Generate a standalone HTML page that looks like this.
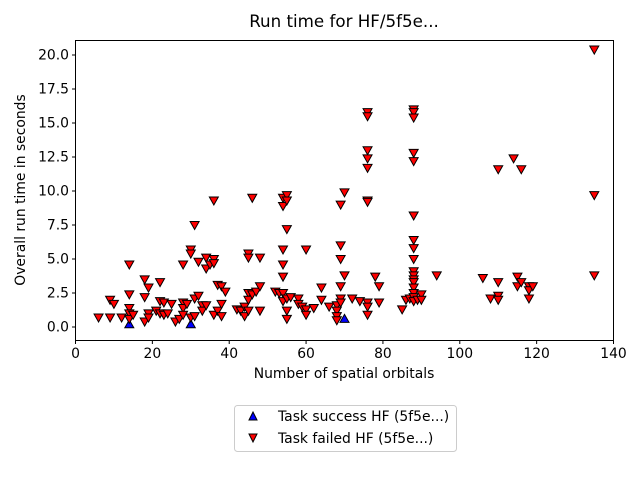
<!DOCTYPE html>
<html><head><meta charset="utf-8"><style>
body{margin:0;background:#fff;font-family:"Liberation Sans","DejaVu Sans",sans-serif}
svg{display:block}
</style></head><body>
<svg id="chart" width="640" height="480" xmlns="http://www.w3.org/2000/svg" font-family="'DejaVu Sans','Liberation Sans',sans-serif">
<text x="344" y="27" text-anchor="middle" font-size="16.7">Run time for HF/5f5e...</text>
<text x="344" y="378" text-anchor="middle" font-size="13.9">Number of spatial orbitals</text>
<text transform="translate(25,190) rotate(-90)" text-anchor="middle" font-size="13.9">Overall run time in seconds</text>
<g id="ticks"></g>
<g id="marks"></g>
<rect x="75.5" y="40.5" width="538" height="300" fill="none" stroke="#000" stroke-width="1"/>
<g>
<rect x="234.5" y="405.5" width="222" height="46" rx="3" fill="#fff" stroke="#ccc"/>
<polygon points="253,412 257,420 249,420" fill="#0000ff" stroke="#000"/>
<text x="278" y="421" font-size="13.9">Task success HF (5f5e...)</text>
<polygon points="249,434 257,434 253,442" fill="#ff0000" stroke="#000"/>
<text x="278" y="443" font-size="13.9">Task failed HF (5f5e...)</text>
</g>
</svg>
<script>
const xTicks=[0,20,40,60,80,100,120,140];
const yTicks=[0,2.5,5,7.5,10,12.5,15,17.5,20];
const successX=[14,30,70];
const successY=[0.2,0.2,0.6];
const failedX=[6,9,9,10,12,14,14,14,14,14,15,18,18,18,19,19,19,21,22,22,22,23,23,24,25,26,27,28,28,28,28,29,30,30,30,31,31,31,32,32,33,33,34,34,34,35,36,36,36,36,37,37,38,38,38,39,42,43,44,44,45,45,45,45,45,46,46,47,48,48,48,52,53,54,54,54,54,54,54,54,55,55,55,55,55,55,56,58,58,59,60,60,60,62,64,64,66,68,68,68,68,69,69,69,69,69,69,70,70,72,74,76,76,76,76,76,76,76,76,76,76,78,79,79,85,86,87,88,88,88,88,88,88,88,88,88,88,88,88,88,88,88,88,88,89,90,90,94,106,108,110,110,110,110,114,115,115,116,116,118,118,118,119,135,135,135];
const failedY=[0.7,2.0,0.7,1.7,0.7,4.6,2.4,1.4,1.0,0.6,0.9,3.5,2.2,0.4,2.9,1.0,0.7,1.2,3.3,1.9,1.0,1.8,0.9,1.0,1.7,0.4,0.6,4.6,1.8,1.4,0.9,1.7,5.7,5.4,0.7,7.5,2.1,0.8,4.8,2.3,1.6,1.2,5.1,4.3,1.6,4.6,9.3,5.0,4.7,0.9,3.1,1.2,3.0,1.7,0.8,2.6,1.3,1.2,1.5,0.8,5.4,5.1,2.5,2.0,1.2,9.5,2.4,2.6,5.1,3.0,1.2,2.6,2.5,9.5,8.9,5.7,4.6,3.7,2.5,1.9,9.7,9.3,7.2,2.1,1.2,0.6,2.2,2.1,1.7,1.5,5.7,1.3,0.9,1.4,2.9,2.0,1.5,1.6,1.2,0.8,0.5,9.0,6.0,5.0,3.0,2.1,1.8,9.9,3.8,2.1,1.9,15.8,15.5,13.0,12.4,11.7,9.3,9.2,1.8,1.5,0.9,3.7,3.0,1.8,1.3,2.0,2.1,16.0,15.8,15.4,12.8,12.2,8.2,6.4,5.8,5.0,4.1,3.8,3.5,3.3,2.9,2.5,2.2,1.9,2.0,2.4,2.0,3.8,3.6,2.1,11.6,3.3,2.3,2.0,12.4,3.7,3.0,11.6,3.3,3.0,2.7,2.1,3.0,20.4,9.7,3.8];

const NS="http://www.w3.org/2000/svg";
const xs=v=>75.5+v*(538/140);
const ys=v=>327-v*13.6;
const tg=document.getElementById('ticks'), mg=document.getElementById('marks');
function mk(tag,attrs,parent){const e=document.createElementNS(NS,tag);for(const k in attrs)e.setAttribute(k,attrs[k]);parent.appendChild(e);return e;}
xTicks.forEach(t=>{
  const l=mk('line',{x1:xs(t),x2:xs(t),y1:340.5,y2:344,stroke:'#000'},tg);
  
  
  const tx=mk('text',{x:xs(t),y:358,'text-anchor':'middle','font-size':'13.9'},tg);
  
  
  tx.textContent=t;
});
yTicks.forEach(t=>{
  const l=mk('line',{x1:72,x2:75.5,y1:ys(t),y2:ys(t),stroke:'#000'},tg);
  
  
  const tx=mk('text',{x:69,y:ys(t)+4.5,'text-anchor':'end','font-size':'13.9'},tg);
  
  
  tx.textContent=t.toFixed(1);
});
successX.forEach((v,i)=>{
  const x=xs(v),y=ys(successY[i]);
  const p=mk('polygon',{points:`${x},${y-4.5} ${x+4.5},${y+3.5} ${x-4.5},${y+3.5}`,fill:'#0000ff',stroke:'#000'},mg);
  
  
});
failedX.forEach((v,i)=>{
  const x=xs(v),y=ys(failedY[i]);
  const p=mk('polygon',{points:`${x-4.5},${y-3.5} ${x+4.5},${y-3.5} ${x},${y+4.5}`,fill:'#ff0000',stroke:'#000'},mg);
  
  
});
</script>
</body></html>
